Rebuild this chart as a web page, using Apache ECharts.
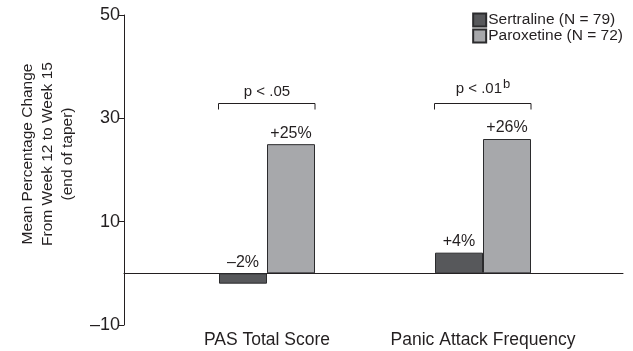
<!DOCTYPE html>
<html>
<head>
<meta charset="utf-8">
<script src="https://cdn.jsdelivr.net/npm/echarts@6/dist/echarts.min.js"></script>
<style>html,body{margin:0;padding:0;background:#fff}#c{width:633px;height:351px}</style>
</head>
<body>
<div id="c"></div>
<script>
const categories = ['PAS Total Score', 'Panic Attack Frequency'];
const seriesNames = ['Sertraline (N = 79)', 'Paroxetine (N = 72)'];
const sertraline = [-2, 4];
const paroxetine = [25, 26];
const pTexts = ['p < .05', 'p < .01'];
const pSup = ['', 'b'];
const bracketY = [33, 33];
const yTicks = { min: -10, max: 50, interval: 20 };

const FONT = 'Liberation Sans, Arial, Helvetica, sans-serif';
const TXT = '#231f20';
const BW = 48;

const chart = echarts.init(document.getElementById('c'));
const labelFmt = p => (p.value > 0 ? '+' : '\u2013') + Math.abs(p.value) + '%';

chart.setOption({
  animation: false,
  textStyle: { fontFamily: FONT, color: TXT },
  grid: [
    { left: 124, right: 10, top: 15, bottom: 26 },
    { left: 159, right: 42, top: 15, bottom: 26 }
  ],
  legend: {
    orient: 'vertical', right: 10, top: 12, itemWidth: 13, itemHeight: 13, itemGap: 0,
    icon: 'rect', padding: [0, 0, 0, 0],
    textStyle: { fontFamily: FONT, fontSize: 15.5, lineHeight: 16, color: TXT, padding: [0, 0, 0, -3] },
    data: seriesNames
  },
  xAxis: [
    { gridIndex: 0, type: 'value', min: 0, max: 1,
      axisLine: { show: true, onZero: true, lineStyle: { color: '#231f20', width: 1 } },
      axisTick: { show: false }, axisLabel: { show: false }, splitLine: { show: false } },
    { gridIndex: 1, type: 'category', data: categories, position: 'bottom',
      axisLine: { show: false, onZero: false }, axisTick: { show: false },
      axisLabel: { interval: 0, fontSize: 17.5, color: TXT, margin: 6, fontFamily: FONT } }
  ],
  yAxis: [
    { gridIndex: 0, type: 'value', min: yTicks.min, max: yTicks.max, interval: yTicks.interval,
      axisLine: { show: true, lineStyle: { color: '#231f20', width: 1 } },
      axisTick: { show: true, length: 6, lineStyle: { color: '#231f20' } },
      axisLabel: { fontSize: 18, color: TXT, margin: 4, fontFamily: FONT,
        formatter: v => v < 0 ? '\u2013' + Math.abs(v) : String(v) },
      splitLine: { show: false },
      name: 'Mean Percentage Change\nFrom Week 12 to Week 15\n(end of taper)',
      nameLocation: 'middle', nameRotate: 90, nameGap: 46,
      nameTextStyle: { fontSize: 15.5, color: TXT, lineHeight: 20, fontFamily: FONT, padding: [0, 0, 0, 32] } },
    { gridIndex: 1, type: 'value', min: yTicks.min, max: yTicks.max, interval: yTicks.interval, show: false }
  ],
  series: [
    { name: seriesNames[0], type: 'bar', xAxisIndex: 1, yAxisIndex: 1, data: sertraline,
      barWidth: BW, barGap: '0%',
      itemStyle: { color: '#57585b', borderColor: '#2b2b2d', borderWidth: 1 },
      label: { show: true, position: 'top', distance: 3, fontSize: 16, color: TXT, fontFamily: FONT, formatter: labelFmt } },
    { name: seriesNames[1], type: 'bar', xAxisIndex: 1, yAxisIndex: 1, data: paroxetine,
      barWidth: BW, barGap: '0%',
      itemStyle: { color: '#a7a8ab', borderColor: '#2b2b2d', borderWidth: 1 },
      label: { show: true, position: 'top', distance: 3, fontSize: 16, color: TXT, fontFamily: FONT, formatter: labelFmt } },
    { type: 'custom', xAxisIndex: 1, yAxisIndex: 1, silent: true,
      data: categories.map((c, i) => [i, bracketY[i], i]),
      renderItem: (params, api) => {
        const i = api.value(2);
        const pt = api.coord([api.value(0), api.value(1)]);
        const x0 = pt[0] - BW - 0.5, x1 = pt[0] + BW, y = Math.round(pt[1]) + 0.5;
        return { type: 'group', children: [
          { type: 'polyline', shape: { points: [[x0, y + 6], [x0, y], [x1, y], [x1, y + 6]] },
            style: { stroke: '#231f20', lineWidth: 1, fill: null } },
          { type: 'text', x: pt[0], y: y - 4,
            style: { text: pTexts[i] + (pSup[i] ? '{s|' + pSup[i] + '}' : ''),
              rich: { s: { fontSize: 13, fontFamily: FONT, fill: TXT, padding: [0, 0, 9, 1] } },
              font: '15px ' + FONT, fill: TXT, align: 'center', verticalAlign: 'bottom' } }
        ] };
      }
    }
  ]
});
</script>
</body>
</html>
